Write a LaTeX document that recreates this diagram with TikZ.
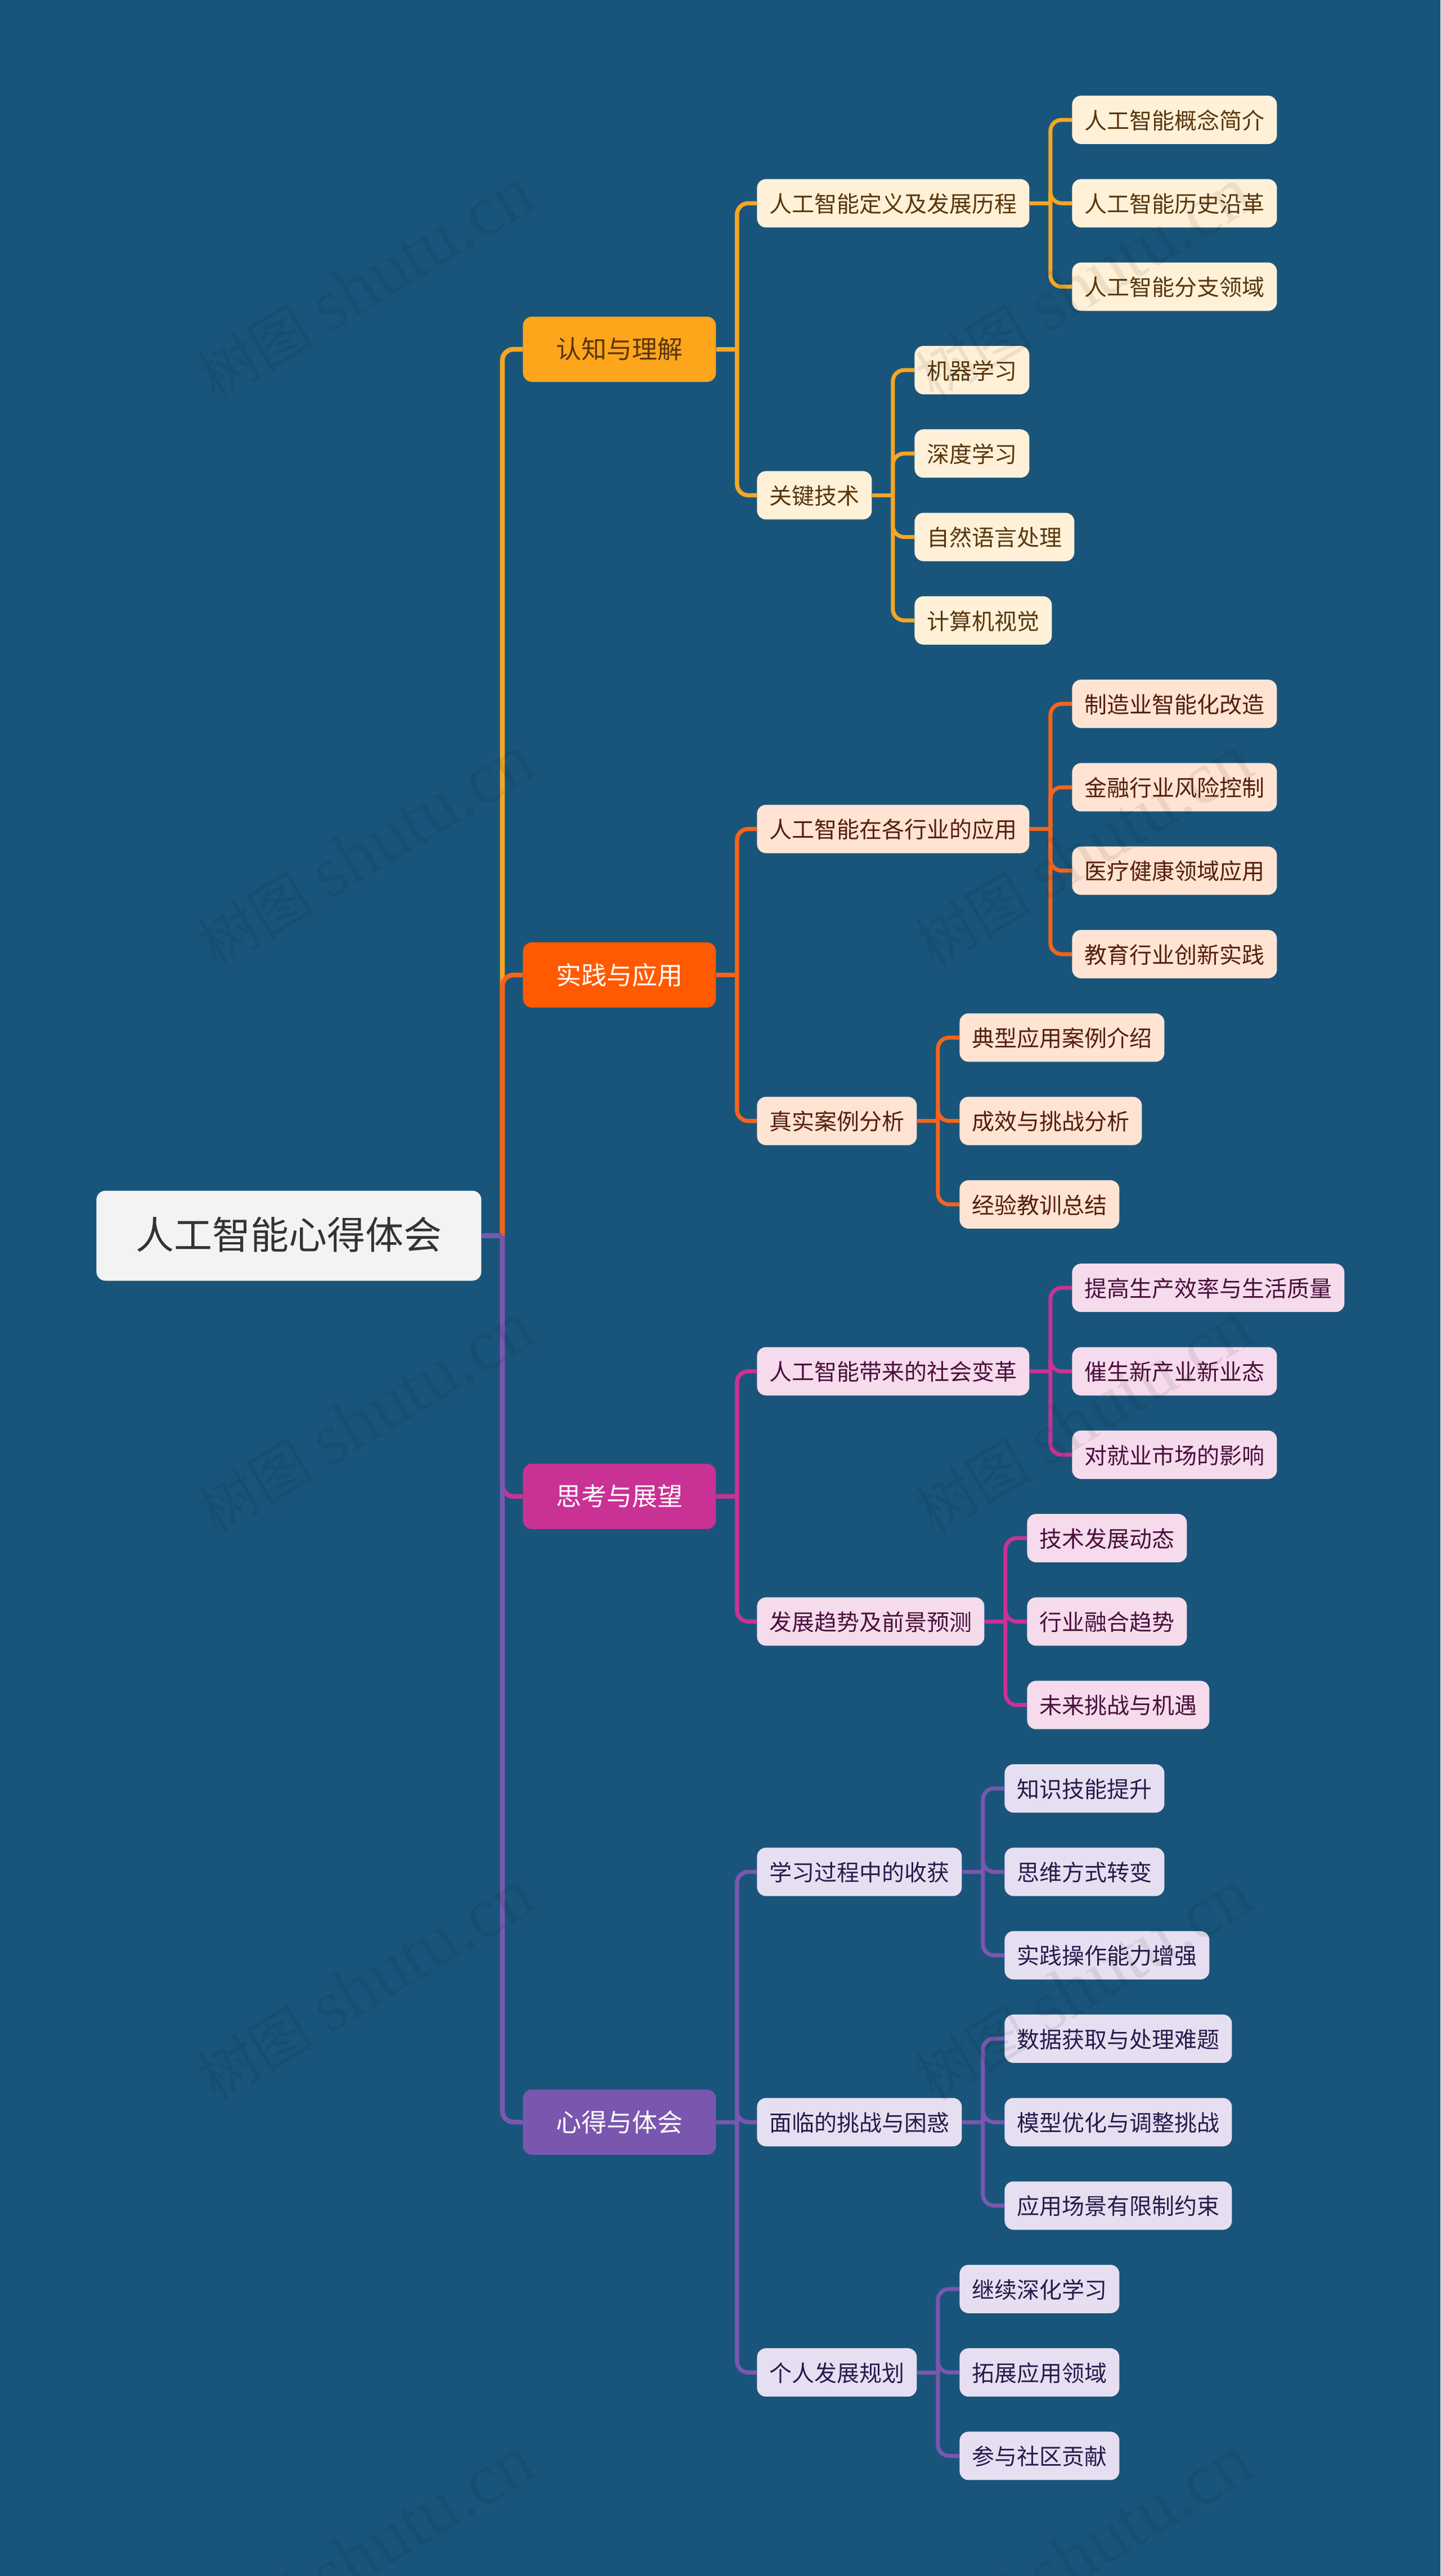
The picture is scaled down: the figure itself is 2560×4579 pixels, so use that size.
\documentclass[tikz,border=0pt]{standalone}
\usepackage{fontspec}
\setmainfont{Noto Sans CJK SC}
\newfontfamily\wmcjk{Noto Sans CJK SC}
\newfontfamily\wmlat{Liberation Serif}
\definecolor{bgc}{HTML}{19557B}
\definecolor{roottext}{HTML}{333333}
\definecolor{rootfill}{HTML}{F3F3F3}
\definecolor{oa}{HTML}{FFA51C}\definecolor{ob}{HTML}{FFF1D8}\definecolor{oc}{HTML}{5A360C}\definecolor{ol}{HTML}{F7A623}
\definecolor{ra}{HTML}{FF5A00}\definecolor{rb}{HTML}{FFE3D3}\definecolor{rc}{HTML}{561E0C}\definecolor{rl}{HTML}{F5641A}
\definecolor{ma}{HTML}{C93294}\definecolor{mb}{HTML}{F5DBEC}\definecolor{mc}{HTML}{4A0F3C}\definecolor{ml}{HTML}{C93294}
\definecolor{pa}{HTML}{7A57AE}\definecolor{pb}{HTML}{E6DFF1}\definecolor{pc}{HTML}{2A1A4C}\definecolor{pl}{HTML}{7A57AE}
\tikzset{
  box/.style={rounded corners=8pt,anchor=west,inner ysep=0pt},
  rootbox/.style={box,fill=rootfill,text=roottext,font=\fontsize{34pt}{34pt}\selectfont,inner xsep=35pt,minimum height=80pt,text height=30.5pt,text depth=6.5pt},
  mainbox/.style={box,font=\fontsize{22.5pt}{22.5pt}\selectfont,inner xsep=29.5pt,minimum height=58pt,text height=21.2pt,text depth=4.3pt},
  leafbox/.style={box,font=\fontsize{20pt}{20pt}\selectfont,inner xsep=11pt,minimum height=43pt,text height=20pt,text depth=3.8pt},
  mo/.style={mainbox,fill=oa,text=oc},mr/.style={mainbox,fill=ra,text=white},mm/.style={mainbox,fill=ma,text=white},mp/.style={mainbox,fill=pa,text=white},
  lo/.style={leafbox,fill=ob,text=oc},lr/.style={leafbox,fill=rb,text=rc},lm/.style={leafbox,fill=mb,text=mc},lp/.style={leafbox,fill=pb,text=pc},
  trunkline/.style={line width=4.2pt,rounded corners=10pt},
  midline/.style={line width=3.7pt,rounded corners=10pt},
  leafline/.style={line width=3.5pt,rounded corners=10pt},
  wmark/.style={text=black,text opacity=0.075,rotate=31,inner sep=0pt}
}
\newcommand{\linkup}[4]{% style, colour, parent, children
  \draw[#1,#2] (#3.east) -- ++(37,0) coordinate (e#3);
  \foreach \c in {#4}{\draw[#1,#2] (e#3) |- (\c.west);}
}
\newcommand{\wm}[3]{\node[wmark] (#1) at (#2,#3) {{\wmcjk\fontsize{52pt}{52pt}\selectfont 树图}\hspace{13pt}{\wmlat\fontsize{65pt}{65pt}\selectfont shutu.cn}};}
\begin{document}
\begin{tikzpicture}[x=0.5pt,y=-0.5pt,declare function={rowy(\n)=213+148.3*\n;}]
\useasboundingbox (0,0) rectangle (2560,4579);
\fill[bgc] (0,0) rectangle (2560,4579);
\node[rootbox] (root) at (171,{rowy(13.375)}) {人工智能心得体会};
% mains
\node[mo] (m1) at (929,{rowy(2.75)}) {认知与理解};
\node[mr] (m2) at (929,{rowy(10.25)}) {实践与应用};
\node[mm] (m3) at (929,{rowy(16.5)}) {思考与展望};
\node[mp] (m4) at (929,{rowy(24)}) {心得与体会};
% branch 1
\node[lo] (a1) at (1345,{rowy(1)}) {人工智能定义及发展历程};
\node[lo] (a2) at (1345,{rowy(4.5)}) {关键技术};
\node[lo] (a11) at (1905,{rowy(0)}) {人工智能概念简介};
\node[lo] (a12) at (1905,{rowy(1)}) {人工智能历史沿革};
\node[lo] (a13) at (1905,{rowy(2)}) {人工智能分支领域};
\node[lo] (a21) at (1625,{rowy(3)}) {机器学习};
\node[lo] (a22) at (1625,{rowy(4)}) {深度学习};
\node[lo] (a23) at (1625,{rowy(5)}) {自然语言处理};
\node[lo] (a24) at (1625,{rowy(6)}) {计算机视觉};
% branch 2
\node[lr] (b1) at (1345,{rowy(8.5)}) {人工智能在各行业的应用};
\node[lr] (b2) at (1345,{rowy(12)}) {真实案例分析};
\node[lr] (b11) at (1905,{rowy(7)}) {制造业智能化改造};
\node[lr] (b12) at (1905,{rowy(8)}) {金融行业风险控制};
\node[lr] (b13) at (1905,{rowy(9)}) {医疗健康领域应用};
\node[lr] (b14) at (1905,{rowy(10)}) {教育行业创新实践};
\node[lr] (b21) at (1705,{rowy(11)}) {典型应用案例介绍};
\node[lr] (b22) at (1705,{rowy(12)}) {成效与挑战分析};
\node[lr] (b23) at (1705,{rowy(13)}) {经验教训总结};
% branch 3
\node[lm] (c1) at (1345,{rowy(15)}) {人工智能带来的社会变革};
\node[lm] (c2) at (1345,{rowy(18)}) {发展趋势及前景预测};
\node[lm] (c11) at (1905,{rowy(14)}) {提高生产效率与生活质量};
\node[lm] (c12) at (1905,{rowy(15)}) {催生新产业新业态};
\node[lm] (c13) at (1905,{rowy(16)}) {对就业市场的影响};
\node[lm] (c21) at (1825,{rowy(17)}) {技术发展动态};
\node[lm] (c22) at (1825,{rowy(18)}) {行业融合趋势};
\node[lm] (c23) at (1825,{rowy(19)}) {未来挑战与机遇};
% branch 4
\node[lp] (d1) at (1345,{rowy(21)}) {学习过程中的收获};
\node[lp] (d2) at (1345,{rowy(24)}) {面临的挑战与困惑};
\node[lp] (d3) at (1345,{rowy(27)}) {个人发展规划};
\node[lp] (d11) at (1785,{rowy(20)}) {知识技能提升};
\node[lp] (d12) at (1785,{rowy(21)}) {思维方式转变};
\node[lp] (d13) at (1785,{rowy(22)}) {实践操作能力增强};
\node[lp] (d21) at (1785,{rowy(23)}) {数据获取与处理难题};
\node[lp] (d22) at (1785,{rowy(24)}) {模型优化与调整挑战};
\node[lp] (d23) at (1785,{rowy(25)}) {应用场景有限制约束};
\node[lp] (d31) at (1705,{rowy(26)}) {继续深化学习};
\node[lp] (d32) at (1705,{rowy(27)}) {拓展应用领域};
\node[lp] (d33) at (1705,{rowy(28)}) {参与社区贡献};
% connectors
\linkup{trunkline}{ol}{root}{m1}
\linkup{trunkline}{rl}{root}{m2}
\linkup{trunkline}{ml}{root}{m3}
\linkup{trunkline}{pl}{root}{m4}
\linkup{midline}{ol}{m1}{a1,a2}
\linkup{midline}{rl}{m2}{b1,b2}
\linkup{midline}{ml}{m3}{c1,c2}
\linkup{midline}{pl}{m4}{d1,d2,d3}
\linkup{leafline}{ol}{a1}{a11,a12,a13}
\linkup{leafline}{ol}{a2}{a21,a22,a23,a24}
\linkup{leafline}{rl}{b1}{b11,b12,b13,b14}
\linkup{leafline}{rl}{b2}{b21,b22,b23}
\linkup{leafline}{ml}{c1}{c11,c12,c13}
\linkup{leafline}{ml}{c2}{c21,c22,c23}
\linkup{leafline}{pl}{d1}{d11,d12,d13}
\linkup{leafline}{pl}{d2}{d21,d22,d23}
\linkup{leafline}{pl}{d3}{d31,d32,d33}
% watermarks
\wm{w1}{650}{505}\wm{w2}{650}{1513}\wm{w3}{650}{2521}\wm{w4}{650}{3529}\wm{w5}{650}{4537}
\wm{w6}{1926}{505}\wm{w7}{1926}{1513}\wm{w8}{1926}{2521}\wm{w9}{1926}{3529}\wm{w10}{1926}{4537}
\end{tikzpicture}
\end{document}
